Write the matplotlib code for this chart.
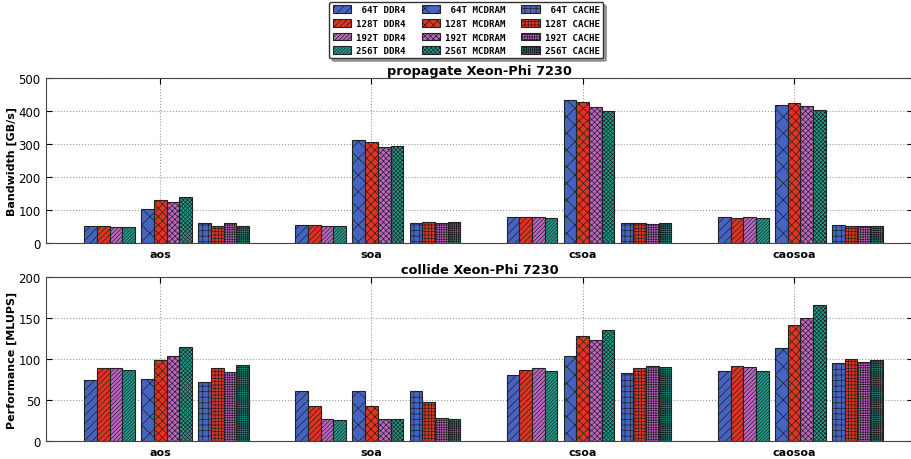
import numpy as np
import matplotlib
matplotlib.use('Agg')
import matplotlib.pyplot as plt

# Categories and series
layouts = ['aos', 'soa', 'csoa', 'caosoa']
threads = ['64T', '128T', '192T', '256T']
memories = ['DDR4', 'MCDRAM', 'CACHE']

# propagate bandwidth [GB/s], per memory mode, rows = threads, cols = layouts
prop_ddr4 = [[53, 56, 80, 80],
             [51, 56, 78, 77],
             [49, 53, 78, 78],
             [49, 53, 76, 76]]
prop_mcdram = [[105, 314, 434, 420],
               [130, 308, 429, 426],
               [124, 292, 414, 416],
               [139, 295, 401, 404]]
prop_cache = [[60, 62, 62, 56],
              [53, 63, 60, 53],
              [60, 60, 58, 53],
              [53, 63, 60, 53]]

# collide performance [MLUPS]
coll_ddr4 = [[74, 60.5, 81, 85],
             [89, 43, 87, 91.5],
             [89, 27, 88.5, 90],
             [87, 25.5, 85.5, 85]]
coll_mcdram = [[75, 61.5, 103.5, 113.5],
               [98.5, 43, 128, 141],
               [103, 27, 123.5, 150],
               [114.5, 26.5, 135, 166]]
coll_cache = [[72, 61.5, 83, 95.5],
              [89, 48, 89.5, 100],
              [83.5, 28, 92, 96],
              [93, 26.5, 90.5, 98.5]]

colors = ['#4563c0', '#e5321f', '#c065c5', '#1fa08e']
hatches = {'DDR4': ['////', '//////', '////////', '//////////'],
           'MCDRAM': ['xx', 'xxxx', 'xxxxxx', 'xxxxxxxx'],
           'CACHE': ['+++', '+++++', '+++++++', '+++++++++']}

plt.rcParams['hatch.linewidth'] = 0.5

fig = plt.figure(figsize=(9.11, 4.6), dpi=100)
ax1 = fig.add_axes([0.0505, 0.469, 0.952, 0.359])
ax2 = fig.add_axes([0.0505, 0.039, 0.952, 0.357])

x = np.arange(len(layouts))
width = 0.06


def draw(ax, data, title, ylabel, ymax, yticks):
    handles = []
    for g, mem in enumerate(memories):
        for t in range(len(threads)):
            left = x - 0.36 + 0.27 * g + t * width
            b = ax.bar(left, data[g][t], width, align='edge', color=colors[t],
                       edgecolor='#222222', linewidth=0.8,
                       hatch=hatches[mem][t],
                       label='%4s %s' % (threads[t], mem))
            handles.append(b)
    ax.set_xlim(-0.541, 3.565)
    ax.set_ylim(0, ymax)
    ax.set_yticks(yticks)
    ax.set_xticks(x)
    ax.set_xticklabels(layouts, fontweight='bold', fontsize=8)
    ax.tick_params(axis='y', labelsize=8.5, direction='in', right=True,
                   length=4, pad=4)
    ax.tick_params(axis='x', direction='in', top=True, length=4, pad=4)
    ax.grid(True, linestyle=':', color='#999999', linewidth=0.8)
    ax.set_axisbelow(True)
    ax.set_title(title, fontweight='bold', fontsize=9.3, pad=3)
    ax.set_ylabel(ylabel, fontweight='bold', fontsize=8)
    for s in ax.spines.values():
        s.set_color('#444444')
    return handles


handles = draw(ax1, [prop_ddr4, prop_mcdram, prop_cache],
               'propagate Xeon-Phi 7230', 'Bandwidth [GB/s]', 500,
               [0, 100, 200, 300, 400, 500])
draw(ax2, [coll_ddr4, coll_mcdram, coll_cache],
     'collide Xeon-Phi 7230', 'Performance [MLUPS]', 200,
     [0, 50, 100, 150, 200])

ax1.yaxis.set_label_coords(-0.034, 0.5)
ax2.yaxis.set_label_coords(-0.034, 0.5)

leg = fig.legend(handles=handles, loc='upper center',
                 bbox_to_anchor=(0.512, 1.003), ncol=3, fancybox=True,
                 shadow=True, prop={'family': 'DejaVu Sans Mono',
                                    'weight': 'bold', 'size': 6.6},
                 handlelength=2.0, handleheight=0.9, labelspacing=0.5,
                 columnspacing=1.7, handletextpad=0.6, borderpad=0.35)
leg.get_frame().set_edgecolor('#333333')

fig.savefig('out.png', dpi=100)
